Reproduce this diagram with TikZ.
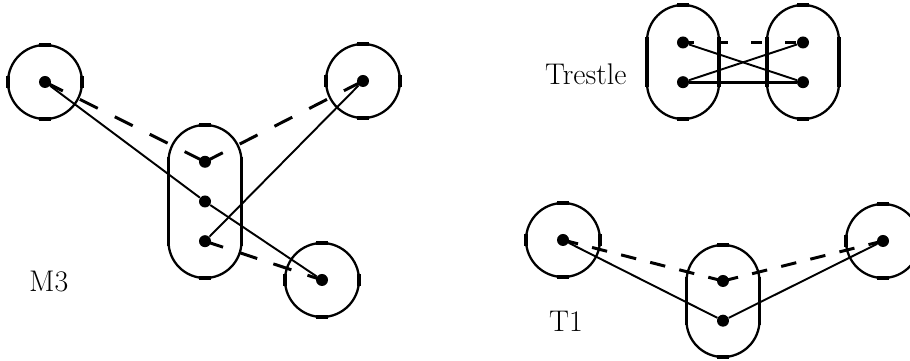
\documentclass[tikz,border=0pt]{standalone}
\usetikzlibrary{positioning}

\begin{document}
\begin{tikzpicture}[
  node distance=0.54cm,
  vertex/.style={circle, fill, inner sep=0pt, minimum size=0.24cm},
  bag/.style={circle, draw, line width=1.3pt, minimum size=1.48cm, inner sep=0pt, outer sep=0pt},
  pod/.style={draw, line width=1.3pt, rounded corners=0.73cm, minimum width=1.46cm, inner sep=0pt, outer sep=0pt},
  edge/.style={line width=1.1pt},
  dashedge/.style={line width=1.7pt, dash pattern=#1},
  dashedge/.default={on 4mm off 3.8mm},
  tick/.style={line width=1.8pt},
  side/.style={line width=1.9pt},
  graphname/.style={anchor=base west, font=\fontsize{17pt}{20pt}\selectfont}
]
\useasboundingbox (0,0) rectangle (18.2,7.22);

% M3
\node[bag] (ml) at (0.90,5.58) {};
\node[bag] (mr) at (7.26,5.60) {};
\node[bag] (mb) at (6.44,1.62) {};
\node[pod, minimum height=3.06cm] (mp) at (4.10,3.19) {};
\node[vertex] (a) at (ml) {};
\node[vertex] (b) at (mr) {};
\node[vertex] (c) at (mb) {};
\node[vertex] (x2) at (mp) {};
\node[vertex] (x1) [above=of x2] {};
\node[vertex] (x3) [below=of x2] {};
\node[graphname] (m3) at (0.46,1.38) {M3};

\draw[edge] (a) -- (x2) -- (c);
\draw[edge] (x3) -- (b);
\draw[dashedge] (a.center) -- (x1.center);
\draw[dashedge] (x1.center) -- (b.center);
\draw[dashedge={on 3.8mm off 3.4mm}] (x3.center) -- (c.center);

% Trestle
\node[pod, minimum width=1.44cm, rounded corners=0.72cm, minimum height=2.28cm] (pl) at (13.66,5.98) {};
\node[pod, minimum width=1.44cm, rounded corners=0.72cm, minimum height=2.28cm] (pr) at (16.06,5.98) {};
\node[vertex] (p1) at (13.66,6.37) {};
\node[vertex] (p2) [below=of p1] {};
\node[vertex] (q1) at (16.06,6.37) {};
\node[vertex] (q2) [below=of q1] {};
\node[graphname] (trs) at (10.78,5.52) {Trestle};

\draw[edge] (p1) -- (q2);
\draw[edge] (p2) -- (q1);
\draw[line width=1.7pt] (p2) -- (q2);
\draw[dashedge={on 2.2mm off 4.6mm}] (p1.center) -- (q1.center);

% T1
\node[bag] (tl) at (11.26,2.42) {};
\node[bag] (tr) at (17.66,2.40) {};
\node[pod, minimum height=2.24cm] (tp) at (14.46,1.20) {};
\node[vertex] (u) at (tl) {};
\node[vertex] (w) at (tr) {};
\node[vertex] (y1) at (14.46,1.60) {};
\node[vertex] (y2) [below=of y1] {};
\node[graphname] (t1) at (10.86,0.58) {T1};

\draw[edge] (u) -- (y2) -- (w);
\draw[dashedge={on 3.1mm off 2.9mm}] (u.center) -- (y1.center);
\draw[dashedge={on 3.1mm off 2.9mm}] (y1.center) -- (w.center);

% joins of the outlines
\foreach \n in {ml,mr,mb,tl,tr} {
  \draw[tick] ([xshift=-1.2mm]\n.north) -- ([xshift=1.2mm]\n.north);
  \draw[tick] ([xshift=-1.2mm]\n.south) -- ([xshift=1.2mm]\n.south);
  \draw[tick] ([yshift=-1.2mm]\n.west) -- ([yshift=1.2mm]\n.west);
  \draw[tick] ([yshift=-1.2mm]\n.east) -- ([yshift=1.2mm]\n.east);
}
\foreach \n in {mp,pl,pr,tp} {
  \draw[tick] ([xshift=-1.2mm]\n.north) -- ([xshift=1.2mm]\n.north);
  \draw[tick] ([xshift=-1.2mm]\n.south) -- ([xshift=1.2mm]\n.south);
  \draw[side] ([yshift=-6.4mm]\n.north west) -- ([yshift=6.4mm]\n.south west);
  \draw[side] ([yshift=-6.4mm]\n.north east) -- ([yshift=6.4mm]\n.south east);
}
\end{tikzpicture}
\end{document}
